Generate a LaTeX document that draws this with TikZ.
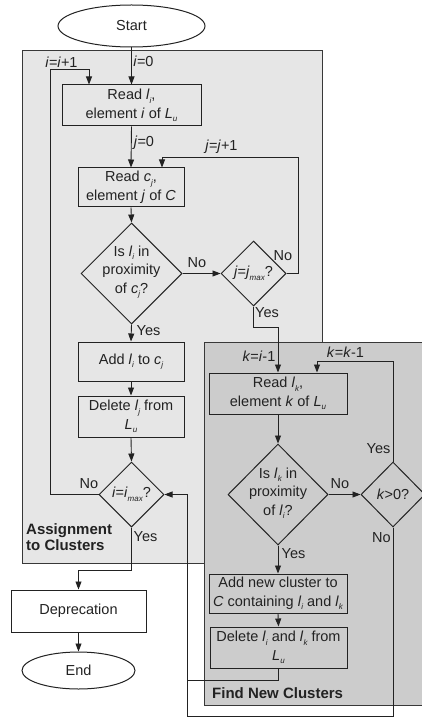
\documentclass[tikz,border=0pt]{standalone}
\usepackage{fontspec}
\setmainfont{Liberation Sans}
\usetikzlibrary{shapes.geometric,arrows.meta}
\newcommand\sbs[1]{\raisebox{-3.5pt}{\fontsize{8}{8}\selectfont\itshape #1}}
\newcommand\iv[1]{\textit{#1}}
\definecolor{lightbg}{HTML}{E6E6E6}
\definecolor{darkbg}{HTML}{CCCCCC}
\definecolor{ink}{HTML}{222222}
\tikzset{
  box/.style={draw=ink, rectangle, inner sep=0pt, align=center, line width=1pt},
  dia/.style={draw=ink, diamond, inner sep=0pt, shape aspect=1, line width=1pt},
  term/.style={draw=ink, ellipse, fill=white, inner sep=0pt, line width=1pt},
  lbl/.style={inner sep=0pt, text=ink},
  conn/.style={->, draw=ink, line width=0.9pt},
  area/.style={draw=ink!90, line width=1pt},
}
\begin{document}
\begin{tikzpicture}[x=1pt,y=-1pt,font=\fontsize{14.5}{18.5}\selectfont,
  >={Triangle[length=8pt,width=6pt]}, text=ink]
\useasboundingbox (0,0) rectangle (422,719);
\clip (0,0) rectangle (422,719);
% areas
\node[area, fill=lightbg, rectangle, inner sep=0pt, minimum width=300pt, minimum height=512pt] (areaA) at (172,307) {};
\node[area, fill=darkbg, rectangle, inner sep=0pt, minimum width=236pt, minimum height=363pt] (areaB) at (322,523.5) {};
\node[lbl, anchor=north west, align=left, font=\fontsize{15}{16}\selectfont\bfseries] (labA) at (26,523) {Assignment\\to Clusters};
\node[lbl, anchor=west, font=\fontsize{15}{16}\selectfont\bfseries] (labB) at (212,693) {Find New Clusters};
% nodes
\node[term, minimum width=147pt, minimum height=42pt] (start) at (131.5,26) {Start};
\node[box, minimum width=139pt, minimum height=41pt] (readl) at (131.5,105.5) {Read \iv{l}\sbs{i},\\element \iv{i} of \iv{L}\sbs{u}};
\node[box, minimum width=106pt, minimum height=39pt] (readc) at (131,187.5) {Read \iv{c}\sbs{j},\\element \iv{j} of \iv{C}};
\node[dia, minimum width=101pt, minimum height=101pt] (d1) at (131.5,273.5) {};
\node[lbl, align=center] (d1t) at (131.5,272) {Is \iv{l}\sbs{i} in\\proximity\\of \iv{c}\sbs{j}?};
\node[dia, minimum width=65pt, minimum height=65pt] (d2) at (253.5,273.5) {};
\node[lbl] (d2t) at (253.5,273.5) {\iv{j}=\iv{j}\sbs{max}?};
\node[box, minimum width=106pt, minimum height=39pt] (add) at (131,361.5) {Add \iv{l}\sbs{i} to \iv{c}\sbs{j}};
\node[box, minimum width=106pt, minimum height=41pt] (del) at (131,416.5) {Delete \iv{l}\sbs{j} from\\\iv{L}\sbs{u}};
\node[dia, minimum width=65pt, minimum height=65pt] (d3) at (131.5,494.5) {};
\node[lbl] (d3t) at (131.5,494.5) {\iv{i}=\iv{i}\sbs{max}?};
\node[box, fill=white, minimum width=135pt, minimum height=42pt] (depr) at (78.5,611) {Deprecation};
\node[term, minimum width=113pt, minimum height=37pt] (end) at (78.5,670.5) {End};
\node[box, minimum width=138pt, minimum height=41pt] (readk) at (278,393.5) {Read \iv{l}\sbs{k},\\element \iv{k} of \iv{L}\sbs{u}};
\node[dia, minimum width=100pt, minimum height=101pt] (d4) at (278,494.5) {};
\node[lbl, align=center] (d4t) at (278,493) {Is \iv{l}\sbs{k} in\\proximity\\of \iv{l}\sbs{i}?};
\node[dia, minimum width=64pt, minimum height=65pt] (d5) at (393,494.5) {};
\node[lbl] (d5t) at (393,494.5) {\iv{k}>0?};
\node[box, minimum width=138pt, minimum height=39pt] (addnew) at (278,593.5) {Add new cluster to\\\iv{C} containing \iv{l}\sbs{i} and \iv{l}\sbs{k}};
\node[box, minimum width=137pt, minimum height=41pt] (delk) at (278.5,647.5) {Delete \iv{l}\sbs{i} and \iv{l}\sbs{k} from\\\iv{L}\sbs{u}};
% coordinates
\coordinate (ci) at (89,69);
\coordinate (cj) at (162,157);
\coordinate (ck) at (317,361);
% connectors
\draw[conn] (start.south) -- (readl.north);
\draw[conn] (d3.west) -| (50,69) -- (ci) -- (ci |- readl.north);
\draw[conn] (readl.south) -- (readc.north);
\draw[conn] (d2.east) -| (298,157) -- (cj) -- (cj |- readc.north);
\draw[conn] (readc.south) -- (d1.north);
\draw[conn] (d1.east) -- (d2.west);
\draw[conn] (d2.south) |- (278,327) -- (readk.north);
\draw[conn] (d1.south) -- (add.north);
\draw[conn] (add.south) -- (del.north);
\draw[conn] (del.south) -- (d3.north);
\draw[conn] (d3.south) |- (78.5,570) -- (depr.north);
\draw[conn] (depr.south) -- (end.north);
\draw[conn] (readk.south) -- (d4.north);
\draw[conn] (d4.east) -- (d5.west);
\draw[conn] (d5.north) |- (ck) -- (ck |- readk.north);
\draw[conn] (d4.south) -- (addnew.north);
\draw[conn] (addnew.south) -- (delk.north);
\draw[draw=ink, line width=0.9pt] (delk.south) |- (187,680);
\draw[conn] (d5.south) |- (187,716) |- (d3.east);
% labels
\node[lbl] (l1) at (143.5,61) {\iv{i}=0};
\node[lbl] (l2) at (61.5,62) {\iv{i}=\iv{i}+1};
\node[lbl] (l3) at (144,143) {\iv{j}=0};
\node[lbl] (l4) at (221.5,147) {\iv{j}=\iv{j}+1};
\node[lbl] (l5) at (197,263) {No};
\node[lbl] (l6) at (283,256) {No};
\node[lbl] (l7) at (267,313) {Yes};
\node[lbl] (l8) at (148.5,331) {Yes};
\node[lbl] (l9) at (89,484) {No};
\node[lbl] (l10) at (145.5,537) {Yes};
\node[lbl] (l11) at (259,356) {\iv{k}=\iv{i}-1};
\node[lbl] (l12) at (345.5,352) {\iv{k}=\iv{k}-1};
\node[lbl] (l13) at (340,484) {No};
\node[lbl] (l14) at (378.5,449) {Yes};
\node[lbl] (l15) at (381.5,538) {No};
\node[lbl] (l16) at (293.5,554) {Yes};
\end{tikzpicture}
\end{document}
